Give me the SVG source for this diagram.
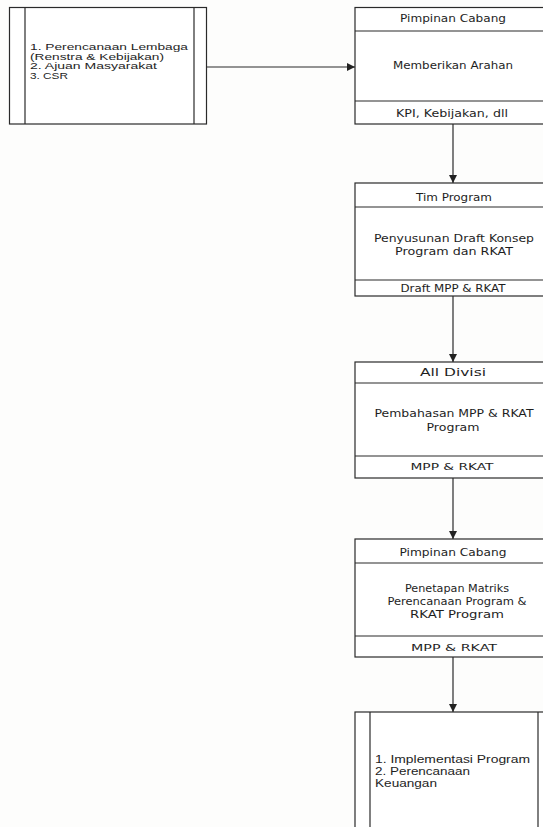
<svg xmlns="http://www.w3.org/2000/svg" width="543" height="827" viewBox="0 0 543 827">
  <defs>
    <marker id="arrow" viewBox="0 0 10 10" refX="10" refY="5" markerWidth="8" markerHeight="8" markerUnits="userSpaceOnUse" orient="auto">
      <path d="M0,0 L10,5 L0,10 z" fill="#222"/>
    </marker>
    <style>
      .box { fill: #fff; stroke: #2a2a2a; stroke-width: 1.2; }
      .rule { stroke: #2a2a2a; stroke-width: 1.2; fill: none; }
      .conn { stroke: #2a2a2a; stroke-width: 1.2; fill: none; marker-end: url(#arrow); }
      .t { font-family: "DejaVu Sans", Verdana, sans-serif; font-size: 11px; fill: #1e1e1e; text-anchor: middle; }
      .ts { font-family: "DejaVu Sans", Verdana, sans-serif; font-size: 9px; fill: #1e1e1e; text-anchor: middle; }
      .ta { font-family: "Liberation Sans", Arial, sans-serif; font-size: 8.2px; fill: #1e1e1e; }
    </style>
  </defs>
  <rect width="543" height="827" fill="#fdfdfc"/>

  <!-- connectors -->
  <g id="connectors">
    <line class="conn" x1="207" y1="67" x2="355" y2="67"/>
    <line class="conn" x1="453" y1="124" x2="453" y2="183"/>
    <line class="conn" x1="453" y1="296" x2="453" y2="362"/>
    <line class="conn" x1="453" y1="478" x2="453" y2="539"/>
    <line class="conn" x1="453" y1="657" x2="453" y2="712"/>
  </g>

  <!-- input sources (predefined process) -->
  <g id="sumber">
    <rect class="box" x="9.5" y="7.5" width="197" height="116.5"/>
    <line class="rule" x1="25" y1="7.5" x2="25" y2="124"/>
    <line class="rule" x1="194" y1="7.5" x2="194" y2="124"/>
    <text class="ta" x="30" y="50" textLength="158" lengthAdjust="spacingAndGlyphs">1. Perencanaan Lembaga</text>
    <text class="ta" x="30" y="59.5" textLength="134" lengthAdjust="spacingAndGlyphs">(Renstra &amp; Kebijakan)</text>
    <text class="ta" x="30" y="69" textLength="127" lengthAdjust="spacingAndGlyphs">2. Ajuan Masyarakat</text>
    <text class="ta" x="30" y="78.5" textLength="38" lengthAdjust="spacingAndGlyphs">3. CSR</text>
  </g>

  <!-- step 1 -->
  <g id="arahan">
    <rect class="box" x="355" y="7.5" width="198" height="116.5"/>
    <line class="rule" x1="355" y1="31" x2="553" y2="31"/>
    <line class="rule" x1="355" y1="101" x2="553" y2="101"/>
    <text class="t" x="453" y="22" textLength="106" lengthAdjust="spacingAndGlyphs">Pimpinan Cabang</text>
    <text class="t" x="453" y="69" textLength="120" lengthAdjust="spacingAndGlyphs">Memberikan Arahan</text>
    <text class="t" x="452" y="117" textLength="112" lengthAdjust="spacingAndGlyphs">KPI, Kebijakan, dll</text>
  </g>

  <!-- step 2 -->
  <g id="draft">
    <rect class="box" x="355" y="183" width="198" height="113"/>
    <line class="rule" x1="355" y1="207" x2="553" y2="207"/>
    <line class="rule" x1="355" y1="280" x2="553" y2="280"/>
    <text class="t" x="454" y="201" textLength="76" lengthAdjust="spacingAndGlyphs">Tim Program</text>
    <text class="t" x="454" y="242" textLength="160" lengthAdjust="spacingAndGlyphs">Penyusunan Draft Konsep</text>
    <text class="t" x="454" y="255" textLength="118" lengthAdjust="spacingAndGlyphs">Program dan RKAT</text>
    <text class="t" x="453" y="292" textLength="105" lengthAdjust="spacingAndGlyphs">Draft MPP &amp; RKAT</text>
  </g>

  <!-- step 3 -->
  <g id="pembahasan">
    <rect class="box" x="355" y="362" width="198" height="116"/>
    <line class="rule" x1="355" y1="383" x2="553" y2="383"/>
    <line class="rule" x1="355" y1="456" x2="553" y2="456"/>
    <text class="t" x="453" y="376" style="font-size:10.5px" textLength="66" lengthAdjust="spacingAndGlyphs">All Divisi</text>
    <text class="t" x="454" y="417" textLength="159" lengthAdjust="spacingAndGlyphs">Pembahasan MPP &amp; RKAT</text>
    <text class="t" x="453" y="431" textLength="53" lengthAdjust="spacingAndGlyphs">Program</text>
    <text class="ts" x="452" y="470" textLength="83" lengthAdjust="spacingAndGlyphs">MPP &amp; RKAT</text>
  </g>

  <!-- step 4 -->
  <g id="penetapan">
    <rect class="box" x="355" y="539" width="198" height="118"/>
    <line class="rule" x1="355" y1="563" x2="553" y2="563"/>
    <line class="rule" x1="355" y1="636" x2="553" y2="636"/>
    <text class="t" x="453" y="556" textLength="107" lengthAdjust="spacingAndGlyphs">Pimpinan Cabang</text>
    <text class="t" x="457" y="592" textLength="104" lengthAdjust="spacingAndGlyphs">Penetapan Matriks</text>
    <text class="t" x="457" y="605" textLength="139" lengthAdjust="spacingAndGlyphs">Perencanaan Program &amp;</text>
    <text class="t" x="457" y="618" textLength="94" lengthAdjust="spacingAndGlyphs">RKAT Program</text>
    <text class="ts" x="454" y="651" textLength="86" lengthAdjust="spacingAndGlyphs">MPP &amp; RKAT</text>
  </g>

  <!-- output (predefined process) -->
  <g id="implementasi">
    <rect class="box" x="355" y="712" width="198" height="130"/>
    <line class="rule" x1="370" y1="712" x2="370" y2="842"/>
    <line class="rule" x1="538" y1="712" x2="538" y2="842"/>
    <text class="ta" x="375" y="763" style="font-size:10px" textLength="155" lengthAdjust="spacingAndGlyphs">1. Implementasi Program</text>
    <text class="ta" x="375" y="775" style="font-size:10px" textLength="95" lengthAdjust="spacingAndGlyphs">2. Perencanaan</text>
    <text class="ta" x="375" y="787" style="font-size:10px" textLength="62" lengthAdjust="spacingAndGlyphs">Keuangan</text>
  </g>
</svg>
